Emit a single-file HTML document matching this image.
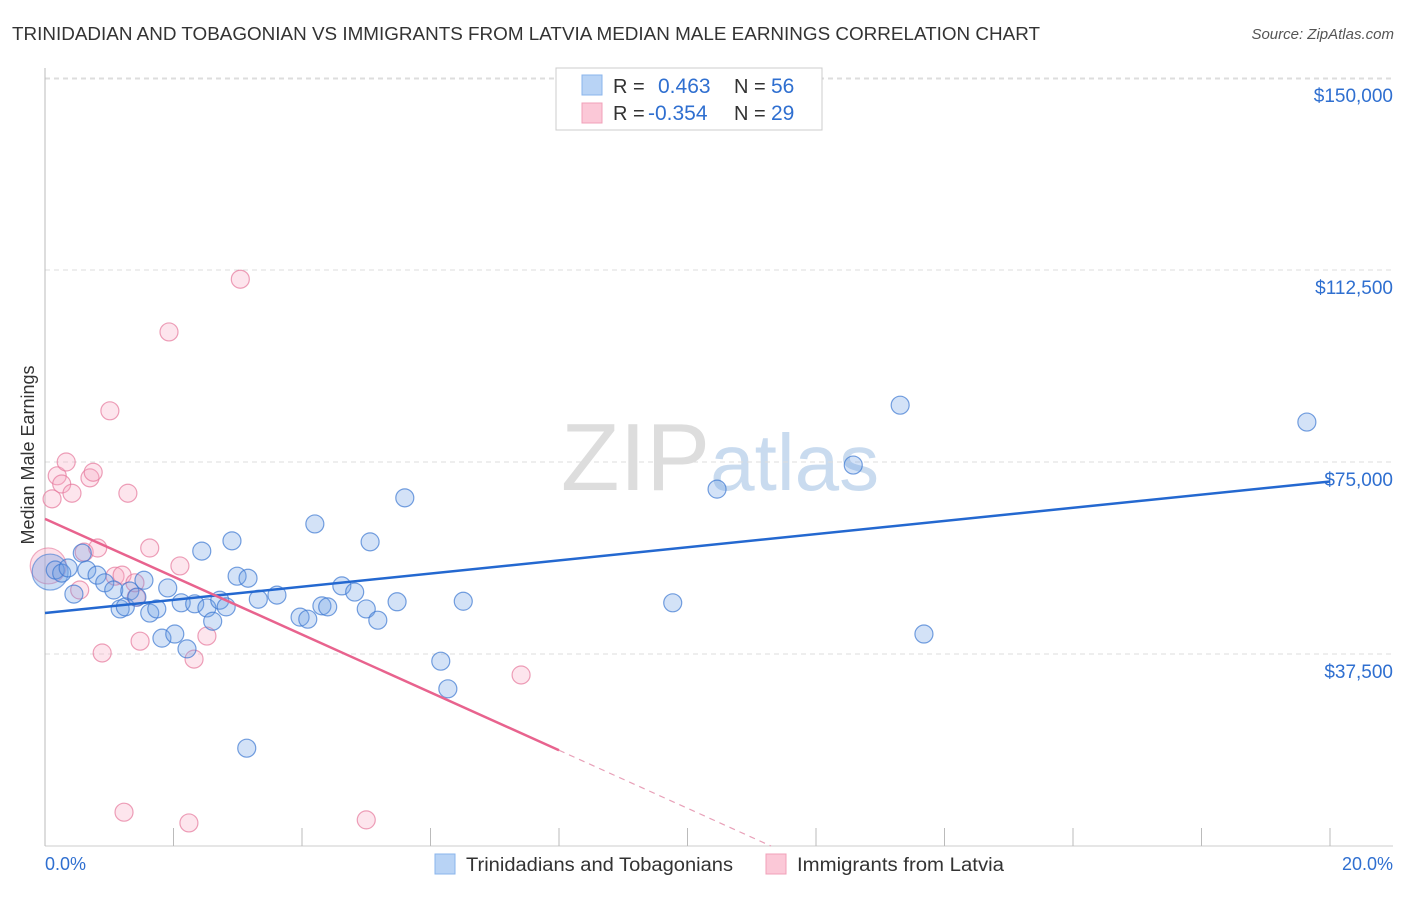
<!DOCTYPE html>
<html><head><meta charset="utf-8"><style>
body{margin:0;background:#fff;font-family:"Liberation Sans",sans-serif;}
svg text{font-family:"Liberation Sans",sans-serif;}
</style></head><body>
<svg id="chart" width="1406" height="892" xmlns="http://www.w3.org/2000/svg">
<text x="12" y="40" font-size="18" fill="#333" textLength="1028" lengthAdjust="spacingAndGlyphs">TRINIDADIAN AND TOBAGONIAN VS IMMIGRANTS FROM LATVIA MEDIAN MALE EARNINGS CORRELATION CHART</text>
<text x="1394" y="39" font-size="15" fill="#555" font-style="italic" text-anchor="end">Source: ZipAtlas.com</text>
<text x="720" y="490" font-size="96" fill="#ddd" text-anchor="middle" font-family="Liberation Serif">ZIP<tspan fill="#c9dbef" font-family="Liberation Sans" font-size="80">atlas</tspan></text>
<text transform="translate(34,455) rotate(-90)" font-size="18" fill="#333" text-anchor="middle">Median Male Earnings</text>
<g id="grid"></g><g id="ticks"></g><g id="marks"></g>
<g>
<rect x="556" y="68" width="266" height="62" fill="#fff" stroke="#ccc"/>
<rect x="582" y="75" width="20" height="20" fill="#b8d3f5" stroke="#8ab4ec"/>
<rect x="582" y="103" width="20" height="20" fill="#fbc8d7" stroke="#f0a0b8"/>
<text x="613" y="93" font-size="20" fill="#333">R =</text><text x="658" y="93" font-size="21" fill="#2f6fd0">0.463</text>
<text x="734" y="93" font-size="20" fill="#333">N =</text><text x="771" y="93" font-size="21" fill="#2f6fd0">56</text>
<text x="613" y="120" font-size="20" fill="#333">R =</text><text x="648" y="120" font-size="21" fill="#2f6fd0">-0.354</text>
<text x="734" y="120" font-size="20" fill="#333">N =</text><text x="771" y="120" font-size="21" fill="#2f6fd0">29</text>
</g>
<g>
<rect x="435" y="854" width="20" height="20" fill="#b8d3f5" stroke="#8ab4ec"/>
<text x="466" y="871" font-size="19" fill="#333" textLength="267" lengthAdjust="spacingAndGlyphs">Trinidadians and Tobagonians</text>
<rect x="766" y="854" width="20" height="20" fill="#fbc8d7" stroke="#f0a0b8"/>
<text x="797" y="871" font-size="19" fill="#333" textLength="207" lengthAdjust="spacingAndGlyphs">Immigrants from Latvia</text>
</g>
<text x="45" y="870" font-size="18" fill="#2f6fd0">0.0%</text>
<text x="1393" y="870" font-size="18" fill="#2f6fd0" text-anchor="end">20.0%</text>
</svg>
<script>
const yTicks=[37500,75000,112500,150000];
const yTickLabels=["$37,500","$75,000","$112,500","$150,000"];
const blueX=[0.16,0.26,0.36,0.45,0.58,0.65,0.81,0.93,1.07,1.17,1.25,1.32,1.43,1.54,1.63,1.74,1.82,1.91,2.02,2.12,2.21,2.33,2.44,2.52,2.61,2.72,2.82,2.91,2.99,3.16,3.14,3.32,3.61,3.97,4.09,4.20,4.31,4.40,4.62,4.82,5.00,5.06,5.18,5.48,5.60,6.16,6.27,6.51,9.77,10.46,12.58,13.31,13.68,19.64];
const blueY=[53900,53300,54300,49200,57200,53900,52900,51400,50000,46300,46700,49800,48600,51900,45500,46300,40600,50400,41400,47500,38500,47300,57600,46500,43900,48000,46700,59600,52700,52300,19100,48200,49000,44700,44300,62900,46900,46700,50800,49600,46300,59400,44100,47700,68000,36100,30700,47800,47500,69700,74400,86100,41400,82800];
const pinkX=[0.11,0.19,0.26,0.33,0.42,0.61,0.70,0.75,0.82,0.89,1.01,1.09,1.20,1.29,1.42,1.48,1.63,1.93,2.10,1.23,2.24,2.32,2.52,3.04,5.00,7.41,0.54,1.40];
const pinkY=[67800,72300,70700,75000,68900,57400,71900,73000,58200,37700,85000,52700,52900,68900,48600,40000,58200,100400,54700,6600,4500,36500,41000,110700,5100,33400,50000,51400];
const blueBig=[0.08,53500];
const pinkBig=[0.05,54700];
const blueTrend=[[0,45500],[20,71200]];
const pinkTrend=[[0,63900],[8,18700],[11.3,0]];
const X0=45,X1=1330,Y0=846,PXPER=192/37500;
const sx=v=>X0+v/20*(X1-X0);
const sy=v=>Y0-v*PXPER;
const NS="http://www.w3.org/2000/svg";
function mk(tag,attrs,parent){const e=document.createElementNS(NS,tag);for(const k in attrs)e.setAttribute(k,attrs[k]);parent.appendChild(e);return e;}
const gridG=document.getElementById('grid'),ticksG=document.getElementById('ticks'),marksG=document.getElementById('marks');
yTicks.forEach((t,i)=>{
 const l=mk('line',{x1:X0,x2:1393,y1:sy(t),y2:sy(t),stroke:'#ddd','stroke-dasharray':'5,4'},gridG);
 
 
 const tx=mk('text',{x:1393,y:sy(t)+24,'font-size':19,fill:'#2f6fd0','text-anchor':'end'},ticksG);
 tx.textContent=yTickLabels[i];
 
 
});
const topLine=mk('line',{x1:X0,x2:1393,y1:79,y2:79,stroke:'#ddd','stroke-dasharray':'5,4'},gridG);


const ax=mk('line',{x1:X0,x2:X0,y1:68,y2:Y0,stroke:'#bbb'},gridG);


const bx=mk('line',{x1:X0,x2:1393,y1:Y0,y2:Y0,stroke:'#ccc'},gridG);


for(let i=0;i<=10;i++){const t=mk('line',{x1:sx(i*2),x2:sx(i*2),y1:828,y2:Y0,stroke:'#bbb'},ticksG);
 
 }
function dot(x,y,r,fill,stroke,name){const c=mk('circle',{cx:sx(x),cy:sy(y),r:r,fill:fill,stroke:stroke,'stroke-width':1.2},marksG);
 
 }
dot(pinkBig[0],pinkBig[1],18,'rgba(248,170,195,0.35)','rgba(230,120,155,0.6)','latvia-point');
dot(blueBig[0],blueBig[1],18,'rgba(110,160,230,0.35)','rgba(60,120,210,0.6)','trinidad-point');
pinkX.forEach((x,i)=>dot(x,pinkY[i],9,'rgba(248,170,195,0.3)','rgba(230,120,155,0.7)','latvia-point'));
blueX.forEach((x,i)=>dot(x,blueY[i],9,'rgba(110,160,230,0.3)','rgba(60,120,210,0.7)','trinidad-point'));
const bl=mk('line',{x1:sx(blueTrend[0][0]),y1:sy(blueTrend[0][1]),x2:sx(blueTrend[1][0]),y2:sy(blueTrend[1][1]),stroke:'#2468d0','stroke-width':2.5},marksG);


const pl=mk('line',{x1:sx(pinkTrend[0][0]),y1:sy(pinkTrend[0][1]),x2:sx(pinkTrend[1][0]),y2:sy(pinkTrend[1][1]),stroke:'#e8638e','stroke-width':2.5},marksG);


const pd=mk('line',{x1:sx(pinkTrend[1][0]),y1:sy(pinkTrend[1][1]),x2:sx(pinkTrend[2][0]),y2:sy(pinkTrend[2][1]),stroke:'#e8a0b8','stroke-width':1.2,'stroke-dasharray':'6,5'},marksG);


</script>
</body></html>
